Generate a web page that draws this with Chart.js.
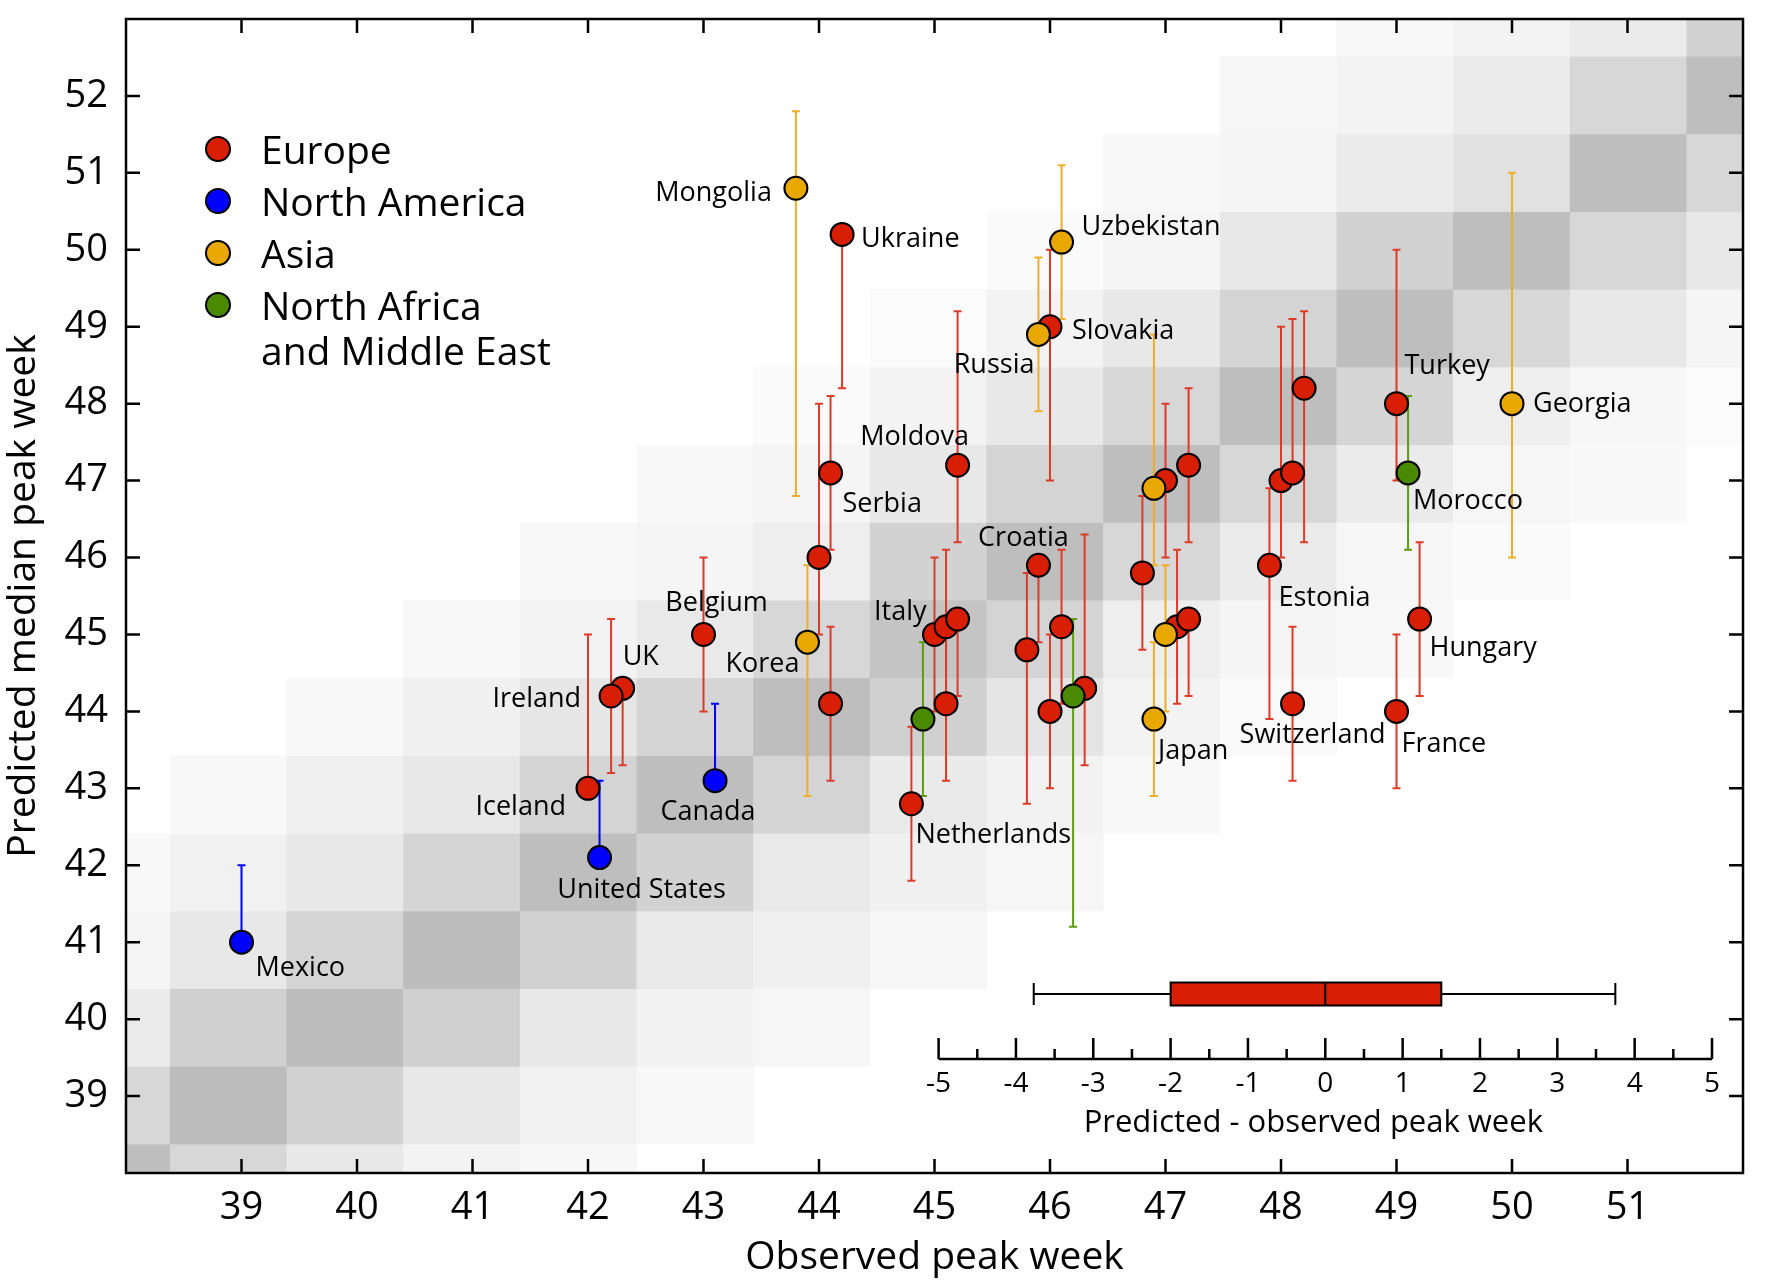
<!DOCTYPE html>
<html>
<head>
<meta charset="utf-8">
<script src="https://cdn.jsdelivr.net/npm/chart.js@4.4.0/dist/chart.umd.min.js"></script>
<style>
  html, body { margin: 0; padding: 0; background: #fff; }
</style>
</head>
<body>
<canvas id="myChart" width="1772" height="1284"></canvas>
<script>
const FONT = "'Open Sans', sans-serif"

const regionNames = ['Europe', 'North America', 'Asia', ['North Africa', 'and Middle East']]
const regionColors = ['#d81e05', '#0000ff', '#e8a800', '#4a8a00']
const barColors = ['#dc3b2a', '#0000ff', '#efae2a', '#5e9c12']

// Europe
const euroNames = ['Ukraine', 'Serbia', '', '', 'Belgium', 'UK', 'Ireland', 'Iceland', 'Moldova', 'Slovakia', 'Italy', '', '', '', 'Netherlands', 'Croatia', '', '', '', '', '', '', '', '', '', 'Estonia', '', '', '', 'Switzerland', 'Turkey', 'Hungary', 'France']
const euroObs = [44.2, 44.1, 44.0, 44.1, 43.0, 42.3, 42.2, 42.0, 45.2, 46.0, 45.0, 45.1, 45.1, 45.2, 44.8, 45.9, 45.8, 46.1, 46.0, 46.3, 46.8, 47.0, 47.2, 47.1, 47.2, 47.9, 48.0, 48.1, 48.2, 48.1, 49.0, 49.2, 49.0]
const euroPred = [50.2, 47.1, 46.0, 44.1, 45.0, 44.3, 44.2, 43.0, 47.2, 49.0, 45.0, 45.1, 44.1, 45.2, 42.8, 45.9, 44.8, 45.1, 44.0, 44.3, 45.8, 47.0, 47.2, 45.1, 45.2, 45.9, 47.0, 47.1, 48.2, 44.1, 48.0, 45.2, 44.0]
const euroLo = [48.2, 46.1, 45.0, 43.1, 44.0, 43.3, 43.2, 43.0, 46.2, 47.0, 44.0, 44.1, 43.1, 44.2, 41.8, 44.9, 42.8, 44.1, 43.0, 43.3, 44.8, 46.0, 46.2, 44.1, 44.2, 43.9, 46.0, 47.1, 46.2, 43.1, 47.0, 44.2, 43.0]
const euroHi = [50.2, 48.1, 48.0, 45.1, 46.0, 44.3, 45.2, 45.0, 49.2, 50.0, 46.0, 46.1, 45.1, 45.2, 43.8, 45.9, 45.8, 46.1, 45.0, 46.3, 46.8, 48.0, 48.2, 46.1, 45.2, 46.9, 49.0, 49.1, 49.2, 45.1, 50.0, 46.2, 45.0]

// North America
const naNames = ['Mexico', 'United States', 'Canada']
const naObs = [39.0, 42.1, 43.1]
const naPred = [41.0, 42.1, 43.1]
const naLo = [41.0, 42.1, 43.1]
const naHi = [42.0, 43.1, 44.1]

// Asia
const asiaNames = ['Mongolia', 'Uzbekistan', 'Russia', 'Georgia', 'Korea', 'Japan', '', '']
const asiaObs = [43.8, 46.1, 45.9, 50.0, 43.9, 46.9, 46.9, 47.0]
const asiaPred = [50.8, 50.1, 48.9, 48.0, 44.9, 43.9, 46.9, 45.0]
const asiaLo = [46.8, 49.1, 47.9, 46.0, 42.9, 42.9, 45.9, 44.0]
const asiaHi = [51.8, 51.1, 49.9, 51.0, 45.9, 44.9, 48.9, 45.9]

// North Africa and Middle East
const afrNames = ['Morocco', '', '']
const afrObs = [49.1, 44.9, 46.2]
const afrPred = [47.1, 43.9, 44.2]
const afrLo = [46.1, 42.9, 41.2]
const afrHi = [48.1, 44.9, 45.2]

const xTicks = [39, 40, 41, 42, 43, 44, 45, 46, 47, 48, 49, 50, 51]
const yTicks = [39, 40, 41, 42, 43, 44, 45, 46, 47, 48, 49, 50, 51, 52]

// background grid: cell edges (weeks) and grey level per cell, rows bottom -> top
const cellEdges = [37.37, 38.38, 39.39, 40.40, 41.41, 42.42, 43.43, 44.44, 45.45, 46.46, 47.47, 48.48, 49.49, 50.50, 51.51, 52.52, 53.53]
const shade = [
  [190, 215, 232, 243, 247, 255, 255, 255, 255, 255, 255, 255, 255, 255, 255],
  [215, 188, 210, 232, 242, 248, 255, 255, 255, 255, 255, 255, 255, 255, 255],
  [235, 208, 188, 208, 232, 242, 246, 255, 255, 255, 255, 255, 255, 255, 255],
  [245, 232, 212, 188, 210, 233, 240, 246, 255, 255, 255, 255, 255, 255, 255],
  [249, 241, 232, 213, 190, 210, 233, 240, 246, 255, 255, 255, 255, 255, 255],
  [255, 248, 240, 232, 212, 190, 212, 234, 242, 248, 255, 255, 255, 255, 255],
  [255, 255, 248, 240, 230, 213, 190, 208, 228, 243, 250, 255, 255, 255, 255],
  [255, 255, 255, 248, 243, 233, 215, 196, 212, 238, 245, 248, 255, 255, 255],
  [255, 255, 255, 255, 248, 245, 238, 210, 190, 215, 235, 246, 250, 255, 255],
  [255, 255, 255, 255, 255, 248, 245, 232, 212, 190, 215, 235, 246, 249, 255],
  [255, 255, 255, 255, 255, 255, 250, 243, 232, 215, 190, 213, 238, 247, 251],
  [255, 255, 255, 255, 255, 255, 255, 251, 243, 232, 212, 190, 215, 232, 245],
  [255, 255, 255, 255, 255, 255, 255, 255, 250, 245, 232, 210, 190, 215, 232],
  [255, 255, 255, 255, 255, 255, 255, 255, 255, 248, 245, 235, 225, 190, 215],
  [255, 255, 255, 255, 255, 255, 255, 255, 255, 255, 247, 243, 235, 215, 190],
  [255, 255, 255, 255, 255, 255, 255, 255, 255, 255, 255, 248, 243, 235, 210]
]

// inset: predicted - observed peak week
const diffMajor = [-5, -4, -3, -2, -1, 0, 1, 2, 3, 4, 5]
const diffMinor = [-4.5, -3.5, -2.5, -1.5, -0.5, 0.5, 1.5, 2.5, 3.5, 4.5]
const diffBox = { min: -3.77, q1: -2.0, median: 0.0, q3: 1.5, max: 3.75 }

// where each country name sits relative to its marker: [align, dx, dy(baseline)]
const labelPos = {
  'Mongolia': ['right', -24, 13], 'Ukraine': ['left', 19, 13], 'Uzbekistan': ['left', 20, -7],
  'Slovakia': ['left', 22, 12], 'Russia': ['right', -4, 39], 'Turkey': ['left', 8, -30],
  'Georgia': ['left', 21, 8], 'Moldova': ['center', -43, -20], 'Serbia': ['left', 12, 39],
  'Croatia': ['center', -15, -19], 'Italy': ['right', -8, -14], 'Belgium': ['center', 13, -23],
  'Korea': ['right', -8, 30], 'UK': ['left', 0, -23], 'Ireland': ['right', -30, 11],
  'Iceland': ['right', -22, 27], 'United States': ['center', 42, 40], 'Canada': ['center', -7, 39],
  'Mexico': ['left', 14, 34], 'Netherlands': ['left', 4, 39], 'Japan': ['left', 4, 40],
  'Switzerland': ['center', 20, 39], 'France': ['left', 5, 41], 'Hungary': ['left', 10, 37],
  'Estonia': ['left', 9, 41], 'Morocco': ['left', 5, 36]
}

const regions = [
  { names: euroNames, obs: euroObs, pred: euroPred, lo: euroLo, hi: euroHi },
  { names: naNames, obs: naObs, pred: naPred, lo: naLo, hi: naHi },
  { names: asiaNames, obs: asiaObs, pred: asiaPred, lo: asiaLo, hi: asiaHi },
  { names: afrNames, obs: afrObs, pred: afrPred, lo: afrLo, hi: afrHi }
]

const datasets = regions.map((r, i) => ({
  label: regionNames[i],
  data: r.obs.map((o, k) => ({ x: o, y: r.pred[k] })),
  backgroundColor: regionColors[i],
  borderColor: '#000',
  borderWidth: 2,
  pointRadius: 11.5,
  order: 4 - i
}))

// inset axis sits inside the main chart area, on its own hidden scale
const areaLeft = 126, areaRight = 1743
const insetLeft = 938.6, insetRight = 1712
const perPx = 10 / (insetRight - insetLeft)
const dMin = -5 - (insetLeft - areaLeft) * perPx
const dMax = 5 + (areaRight - insetRight) * perPx

const backdrop = {
  id: 'backdrop',
  beforeDatasetsDraw(chart) {
    const {ctx, chartArea: a, scales: {x, y}} = chart
    ctx.save()
    ctx.beginPath()
    ctx.rect(a.left, a.top, a.width, a.height)
    ctx.clip()
    shade.forEach((row, j) => row.forEach((g, i) => {
      if (g >= 255) return
      const x0 = x.getPixelForValue(cellEdges[i])
      const x1 = x.getPixelForValue(cellEdges[i + 1])
      const y0 = y.getPixelForValue(cellEdges[j + 1])
      const y1 = y.getPixelForValue(cellEdges[j])
      ctx.fillStyle = `rgb(${g},${g},${g})`
      ctx.fillRect(x0, y0, x1 - x0 + 0.6, y1 - y0 + 0.6)
    }))
    ctx.restore()

    // error bars
    ctx.save()
    ctx.lineWidth = 2
    regions.forEach((r, i) => {
      ctx.strokeStyle = barColors[i]
      r.obs.forEach((o, k) => {
        const px = x.getPixelForValue(o)
        const pLo = y.getPixelForValue(r.lo[k])
        const pHi = y.getPixelForValue(r.hi[k])
        ctx.beginPath()
        ctx.moveTo(px, pLo); ctx.lineTo(px, pHi)
        ctx.moveTo(px - 4, pLo); ctx.lineTo(px + 4, pLo)
        ctx.moveTo(px - 4, pHi); ctx.lineTo(px + 4, pHi)
        ctx.stroke()
      })
    })
    ctx.restore()
  },
  afterDatasetsDraw(chart) {
    const {ctx} = chart
    ctx.save()
    ctx.fillStyle = '#000'
    ctx.font = `27px ${FONT}`
    ctx.textBaseline = 'alphabetic'
    regions.forEach((r, i) => {
      const meta = chart.getDatasetMeta(i)
      r.names.forEach((name, k) => {
        if (!name || !labelPos[name]) return
        const [align, dx, dy] = labelPos[name]
        const pt = meta.data[k]
        ctx.textAlign = align
        ctx.fillText(name, pt.x + dx, pt.y + dy)
      })
    })
    ctx.restore()
  },
  afterDraw(chart) {
    const {ctx, chartArea: a, scales: {x, y, d}} = chart
    ctx.save()
    ctx.strokeStyle = '#000'
    ctx.lineWidth = 2.5
    ctx.strokeRect(a.left, a.top, a.width, a.height)
    ctx.beginPath()
    xTicks.forEach(v => {
      const px = x.getPixelForValue(v)
      ctx.moveTo(px, a.bottom); ctx.lineTo(px, a.bottom - 14)
      ctx.moveTo(px, a.top); ctx.lineTo(px, a.top + 14)
    })
    yTicks.forEach(v => {
      const py = y.getPixelForValue(v)
      ctx.moveTo(a.left, py); ctx.lineTo(a.left + 14, py)
      ctx.moveTo(a.right, py); ctx.lineTo(a.right - 14, py)
    })
    ctx.stroke()

    // legend
    ctx.textAlign = 'left'
    ctx.textBaseline = 'alphabetic'
    ctx.font = `39px ${FONT}`
    datasets.forEach((ds, i) => {
      const cy = 149 + i * 52
      ctx.beginPath()
      ctx.arc(218, cy, 12, 0, Math.PI * 2)
      ctx.fillStyle = ds.backgroundColor
      ctx.fill()
      ctx.lineWidth = 2
      ctx.stroke()
      ctx.fillStyle = '#000'
      const lines = Array.isArray(ds.label) ? ds.label : [ds.label]
      lines.forEach((t, l) => ctx.fillText(t, 261, cy + 15 + l * 45))
    })

    // inset: distribution of predicted - observed
    const axisY = a.bottom - 114
    ctx.lineWidth = 2.5
    ctx.beginPath()
    ctx.moveTo(d.getPixelForValue(diffMajor[0]), axisY)
    ctx.lineTo(d.getPixelForValue(diffMajor[diffMajor.length - 1]), axisY)
    diffMajor.forEach(v => {
      const px = d.getPixelForValue(v)
      ctx.moveTo(px, axisY); ctx.lineTo(px, axisY - 21)
    })
    diffMinor.forEach(v => {
      const px = d.getPixelForValue(v)
      ctx.moveTo(px, axisY); ctx.lineTo(px, axisY - 10)
    })
    ctx.stroke()
    ctx.fillStyle = '#000'
    ctx.textAlign = 'center'
    ctx.font = `28px ${FONT}`
    diffMajor.forEach(v => ctx.fillText(String(v), d.getPixelForValue(v), axisY + 33))
    ctx.font = `31px ${FONT}`
    ctx.fillText('Predicted - observed peak week', d.getPixelForValue(0) - 12, axisY + 73)

    const by = axisY - 65
    const bMin = d.getPixelForValue(diffBox.min), bMax = d.getPixelForValue(diffBox.max)
    const bQ1 = d.getPixelForValue(diffBox.q1), bQ3 = d.getPixelForValue(diffBox.q3)
    const bMed = d.getPixelForValue(diffBox.median)
    ctx.lineWidth = 2
    ctx.beginPath()
    ctx.moveTo(bMin, by); ctx.lineTo(bQ1, by)
    ctx.moveTo(bQ3, by); ctx.lineTo(bMax, by)
    ctx.moveTo(bMin, by - 11); ctx.lineTo(bMin, by + 11)
    ctx.moveTo(bMax, by - 11); ctx.lineTo(bMax, by + 11)
    ctx.stroke()
    ctx.fillStyle = regionColors[0]
    ctx.fillRect(bQ1, by - 11.5, bQ3 - bQ1, 23)
    ctx.strokeRect(bQ1, by - 11.5, bQ3 - bQ1, 23)
    ctx.beginPath()
    ctx.moveTo(bMed, by - 11.5); ctx.lineTo(bMed, by + 11.5)
    ctx.stroke()
    ctx.restore()
  }
}

const config = {
  type: 'scatter',
  data: { datasets: datasets },
  options: {
    responsive: false,
    animation: false,
    devicePixelRatio: 1,
    layout: { padding: { top: 19, right: 29, left: 0, bottom: 0 } },
    plugins: { legend: { display: false }, tooltip: { enabled: false } },
    scales: {
      x: {
        type: 'linear', min: 38, max: 52, position: 'bottom',
        afterBuildTicks: s => { s.ticks = xTicks.map(v => ({ value: v })) },
        afterFit: s => { s.height = 111; s.paddingLeft = 0; s.paddingRight = 0 },
        grid: { display: false, drawTicks: false },
        border: { display: false },
        ticks: { font: { family: FONT, size: 38 }, color: '#000', padding: 12 },
        title: { display: true, text: 'Observed peak week', color: '#000',
          font: { family: FONT, size: 39 }, padding: { top: 0, bottom: 3 } }
      },
      y: {
        type: 'linear', min: 38, max: 53, position: 'left',
        afterBuildTicks: s => { s.ticks = yTicks.map(v => ({ value: v })) },
        afterFit: s => { s.width = 126; s.paddingTop = 0; s.paddingBottom = 0 },
        grid: { display: false, drawTicks: false },
        border: { display: false },
        ticks: { font: { family: FONT, size: 38 }, color: '#000', padding: 18 },
        title: { display: true, text: 'Predicted median peak week', color: '#000',
          font: { family: FONT, size: 39 }, padding: { top: 0, bottom: 0 } }
      },
      d: { type: 'linear', axis: 'x', display: false, min: dMin, max: dMax }
    }
  },
  plugins: [backdrop]
}

const myChart = new Chart(document.getElementById('myChart'), config)
</script>
</body>
</html>
